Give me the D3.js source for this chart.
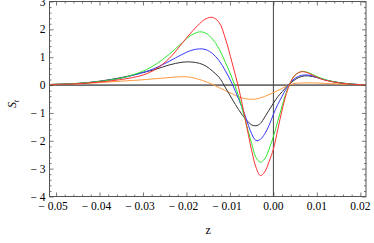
<!DOCTYPE html>
<html>
<head>
<meta charset="utf-8">
<script src="https://cdn.jsdelivr.net/npm/d3@7"></script>
<style>
  body { margin: 0; background: #fff; }
  svg text { font-family: "Liberation Serif", "DejaVu Serif", serif; }
</style>
</head>
<body>
<div id="chart"></div>
<script>
// values
const zs = [-0.0515, -0.045, -0.04, -0.035, -0.03, -0.027, -0.024, -0.021, -0.019, -0.017, -0.0155, -0.014, -0.0125, -0.011, -0.0095, -0.008, -0.0065, -0.005, -0.004, -0.003, -0.002, -0.001, 0, 0.001, 0.002, 0.003, 0.004, 0.005, 0.0065, 0.008, 0.01, 0.012, 0.015, 0.018, 0.0213];
const red = [0.02, 0.05, 0.11, 0.2, 0.36, 0.58, 0.95, 1.5, 1.87, 2.2, 2.38, 2.43, 2.25, 1.65, 0.8, -0.1, -1.2, -2.35, -2.95, -3.25, -3.12, -2.75, -2.3, -1.6, -0.9, -0.3, 0.12, 0.36, 0.48, 0.43, 0.28, 0.17, 0.08, 0.03, 0.01];
const green = [0.02, 0.06, 0.13, 0.25, 0.5, 0.75, 1.1, 1.52, 1.78, 1.91, 1.86, 1.65, 1.3, 0.8, 0.25, -0.4, -1.25, -2.1, -2.6, -2.77, -2.65, -2.3, -1.85, -1.3, -0.75, -0.25, 0.12, 0.36, 0.49, 0.45, 0.31, 0.19, 0.09, 0.035, 0.01];
const blue = [0.02, 0.055, 0.13, 0.25, 0.45, 0.62, 0.85, 1.1, 1.24, 1.3, 1.27, 1.13, 0.88, 0.5, 0.05, -0.5, -1.1, -1.75, -1.99, -1.95, -1.75, -1.45, -1.05, -0.7, -0.4, -0.12, 0.1, 0.25, 0.35, 0.36, 0.28, 0.18, 0.09, 0.035, 0.01];
const black = [0.02, 0.06, 0.14, 0.27, 0.45, 0.57, 0.72, 0.82, 0.83, 0.78, 0.68, 0.5, 0.28, -0.1, -0.5, -0.88, -1.2, -1.43, -1.46, -1.38, -1.15, -0.9, -0.65, -0.42, -0.24, -0.07, 0.08, 0.2, 0.31, 0.33, 0.27, 0.18, 0.09, 0.035, 0.01];
const orange = [0.01, 0.04, 0.09, 0.14, 0.19, 0.23, 0.27, 0.3, 0.28, 0.2, 0.12, 0.02, -0.09, -0.2, -0.31, -0.42, -0.49, -0.51, -0.5, -0.46, -0.41, -0.34, -0.27, -0.2, -0.12, -0.04, 0.02, 0.06, 0.075, 0.08, 0.075, 0.06, 0.04, 0.02, 0.01];

const xTicks = [-0.05, -0.04, -0.03, -0.02, -0.01, 0, 0.01, 0.02];
const yTicks = [-4, -3, -2, -1, 0, 1, 2, 3];

const series = [
  {name: "orange", vals: orange, color: "#ff9a3c"},
  {name: "black", vals: black, color: "#333"},
  {name: "blue", vals: blue, color: "#3a3aff"},
  {name: "green", vals: green, color: "#2ee82e"},
  {name: "red", vals: red, color: "#ff3030"}
];

const W = 374, H = 243;
const svg = d3.select("#chart").append("svg")
  .attr("width", W).attr("height", H);

const x = d3.scaleLinear().domain([-0.0515, 0.0213]).range([49.5, 366]);
const y = d3.scaleLinear().domain([-4, 3]).range([196.5, 1.5]);

const x0 = x.range()[0], x1 = x.range()[1];
const y0 = y.range()[0], y1 = y.range()[1];

// minor tick values
const xMinor = d3.range(-0.05, 0.0211, 0.002).filter(v => xTicks.every(t => Math.abs(t - v) > 1e-6));
const yMinor = d3.range(-4, 3.01, 0.2).filter(v => yTicks.every(t => Math.abs(t - v) > 1e-6));

function fmt(v, dec) {
  const s = d3.format("." + dec + "f")(Math.abs(v));
  return v < -1e-9 ? "\u2212 " + s : s;
}

const tickColor = "#555";

// frame ticks, pointing inward
function tickAxis(axisFn, scale, vals, size, pos) {
  const g = svg.append("g")
    .attr("transform", pos)
    .call(axisFn(scale).tickValues(vals).tickSize(size).tickSizeOuter(0).tickFormat(""));
  g.select(".domain").remove();
  g.selectAll("line").attr("stroke", tickColor).attr("stroke-width", 0.8);
  return g;
}

tickAxis(d3.axisBottom, x, xTicks, -4, `translate(0,${y0})`);
tickAxis(d3.axisBottom, x, xMinor, -2, `translate(0,${y0})`);
tickAxis(d3.axisTop, x, xTicks, -4, `translate(0,${y1})`);
tickAxis(d3.axisTop, x, xMinor, -2, `translate(0,${y1})`);
tickAxis(d3.axisLeft, y, yTicks, -4, `translate(${x0},0)`);
tickAxis(d3.axisLeft, y, yMinor, -2, `translate(${x0},0)`);
tickAxis(d3.axisRight, y, yTicks, -4, `translate(${x1},0)`);
tickAxis(d3.axisRight, y, yMinor, -2, `translate(${x1},0)`);

// tick labels
svg.append("g").selectAll("text")
  .data(xTicks)
  .join("text")
  .attr("x", d => x(d) - (d < 0 ? 3 : 0))
  .attr("y", y0 + 13)
  .attr("text-anchor", "middle")
  .attr("font-size", 11.5)
  .text(d => fmt(d, 2));

svg.append("g").selectAll("text")
  .data(yTicks)
  .join("text")
  .attr("x", x0 - 4)
  .attr("y", d => y(d) + 4)
  .attr("text-anchor", "end")
  .attr("font-size", 11.5)
  .text(d => fmt(d, 0));

// zero axes
svg.append("line")
  .attr("x1", x0).attr("x2", x1)
  .attr("y1", y(0)).attr("y2", y(0))
  .attr("stroke", "#000").attr("stroke-width", 1);
svg.append("line")
  .attr("x1", x(0)).attr("x2", x(0))
  .attr("y1", y0).attr("y2", y1)
  .attr("stroke", "#444").attr("stroke-width", 1);

// curves
const line = d3.line()
  .x(d => x(d[0]))
  .y(d => y(d[1]))
  .curve(d3.curveCatmullRom.alpha(0.5));

svg.append("g").selectAll("path")
  .data(series)
  .join("path")
  .attr("fill", "none")
  .attr("stroke", d => d.color)
  .attr("stroke-width", 1)
  .attr("d", d => line(zs.map((z, i) => [z, d.vals[i]])));

// frame
svg.append("rect")
  .attr("x", x0).attr("y", y1)
  .attr("width", x1 - x0).attr("height", y0 - y1)
  .attr("fill", "none")
  .attr("stroke", tickColor).attr("stroke-width", 1);

// axis titles
svg.append("text")
  .attr("x", x(-0.015))
  .attr("y", 234)
  .attr("text-anchor", "middle")
  .attr("font-size", 12)
  .text("z");

const yl = svg.append("text")
  .attr("transform", "translate(16,104) rotate(-90)")
  .attr("text-anchor", "middle")
  .attr("font-size", 12)
  .attr("font-style", "italic");
yl.append("tspan").text("S");
yl.append("tspan").attr("font-size", 8).attr("dy", 3).text("t");
</script>
</body>
</html>
